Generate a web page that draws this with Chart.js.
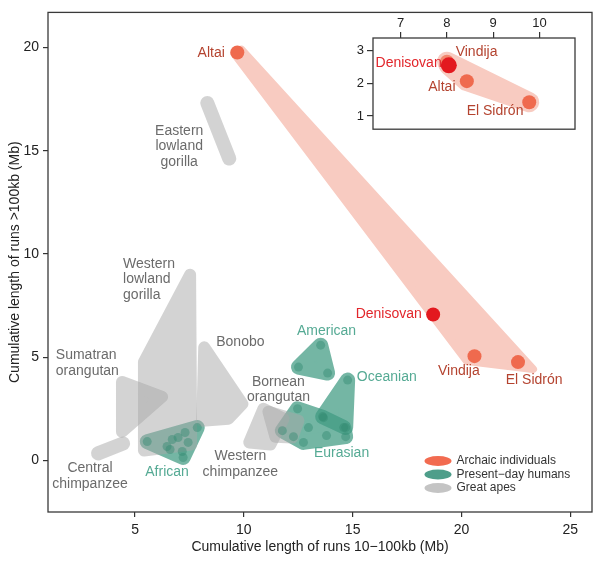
<!DOCTYPE html>
<html>
<head>
<meta charset="utf-8">
<script src="https://cdn.jsdelivr.net/npm/chart.js@4.4.1/dist/chart.umd.min.js"></script>
<style>
  html, body { margin: 0; padding: 0; background: #fff; }
  #wrap { position: relative; width: 602px; height: 564px; }
  #mainChart { position: absolute; left: 0; top: 0; }
  #insetChart { position: absolute; left: 353px; top: 8px; }
</style>
</head>
<body>
<div id="wrap">
  <canvas id="mainChart" width="602" height="564"></canvas>
  <canvas id="insetChart" width="230" height="132"></canvas>
</div>
<script>
  // x = cumulative length of runs 10-100kb (Mb), y = runs >100kb (Mb)
  var archaicNames = ['Altai', 'Denisovan', 'Vindija', 'El Sidrón'];
  var archaicX = [9.7, 18.7, 20.6, 22.6];
  var archaicY = [19.76, 7.07, 5.05, 4.76];
  // outline of the archaic band
  var archaicBandX = [9.56, 9.88, 23.29, 20.25];
  var archaicBandY = [19.71, 19.9, 4.42, 4.81];

  // inset (zoomed values)
  var insetNames = ['Vindija', 'Altai', 'El Sidrón', 'Denisovan'];
  var insetX = [8.0, 8.43, 9.78, 8.04];
  var insetY = [2.65, 2.06, 1.42, 2.54];

  // present-day humans
  var africanDots = [[5.56, 0.91], [6.47, 0.67], [6.71, 1.01], [6.98, 1.11], [7.30, 1.35],
                     [7.86, 1.59], [7.44, 0.87], [7.17, 0.43], [7.21, 0.14], [6.61, 0.53]];
  var americanDots = [[13.53, 5.58], [12.51, 4.52], [13.85, 4.23]];
  var oceanianDots = [[14.77, 3.89], [13.62, 2.12], [14.68, 1.59]];
  var eurasianDots = [[11.77, 1.44], [12.47, 2.5], [12.97, 1.59], [12.28, 1.15], [12.74, 0.87],
                      [13.66, 2.07], [13.80, 1.2], [14.59, 1.59], [14.68, 1.15]];

  // great apes (hull corners)
  var easternGorilla = [[8.32, 17.31], [9.33, 14.62]];
  var westernGorilla = [[7.53, 8.99], [5.41, 4.76], [5.41, 0.48], [7.58, 0.77]];
  var sumatranOrang = [[4.40, 3.80], [6.24, 3.08], [4.40, 1.39]];
  var centralChimp = [[3.30, 0.34], [4.45, 0.82]];
  var bonobo = [[8.18, 5.48], [9.93, 2.74], [9.29, 2.02], [8.09, 1.92]];
  var westernChimp = [[10.25, 0.87], [10.90, 2.50], [11.82, 2.02], [11.22, 0.77]];
  var borneanOrang = [[11.13, 2.36], [12.51, 1.92], [12.23, 1.11], [11.45, 1.15]];

  var xTicks = [5, 10, 15, 20, 25];
  var yTicks = [0, 5, 10, 15, 20];
  var insetXTicks = [7, 8, 9, 10];
  var insetYTicks = [1, 2, 3];

  // text labels: text, x, y, group, align
  var mainLabels = [
    ['Altai', 8.50, 19.71, 'archaic', 'center'],
    ['Denisovan', 16.66, 7.07, 'denisovan', 'center'],
    ['Vindija', 19.88, 4.33, 'archaic', 'center'],
    ['El Sidrón', 23.34, 3.89, 'archaic', 'center'],
    ['Eastern\nlowland\ngorilla', 7.03, 15.96, 'ape', 'center'],
    ['Western\nlowland\ngorilla', 4.45, 9.52, 'ape', 'left'],
    ['Bonobo', 9.84, 5.72, 'ape', 'center'],
    ['Sumatran\norangutan', 1.36, 5.10, 'ape', 'left'],
    ['Central\nchimpanzee', 2.93, -0.38, 'ape', 'center'],
    ['Western\nchimpanzee', 9.84, 0.19, 'ape', 'center'],
    ['Bornean\norangutan', 11.59, 3.80, 'ape', 'center'],
    ['African', 6.47, -0.58, 'human', 'center'],
    ['American', 13.80, 6.25, 'human', 'center'],
    ['Oceanian', 16.57, 4.04, 'human', 'center'],
    ['Eurasian', 14.49, 0.34, 'human', 'center']
  ];
  var insetLabels = [
    ['Vindija', 8.64, 2.94, 'archaic', 'center'],
    ['Denisovan', 7.17, 2.61, 'denisovan', 'center'],
    ['Altai', 7.89, 1.87, 'archaic', 'center'],
    ['El Sidrón', 9.04, 1.14, 'archaic', 'center']
  ];

  var legendNames = ['Archaic individuals', 'Present\u2212day humans', 'Great apes'];
  var legendColors = ['#f26b50', '#4e9e8a', '#c4c4c4'];

  var FONT = "'Liberation Sans', Arial, Helvetica, sans-serif";
  var labelColors = { archaic: '#b4432f', denisovan: '#e2262b', ape: '#6b6b6b', human: '#55aa94' };

  function toPoints(pairs) {
    return pairs.map(function(p) { return { x: p[0], y: p[1] }; });
  }
  function zipPoints(xs, ys) {
    return xs.map(function(x, i) { return { x: x, y: ys[i] }; });
  }

  function convexHull(pts) {
    pts = pts.slice().sort(function(a, b) { return a[0] - b[0] || a[1] - b[1]; });
    if (pts.length < 3) return pts;
    function cross(o, a, b) { return (a[0] - o[0]) * (b[1] - o[1]) - (a[1] - o[1]) * (b[0] - o[0]); }
    var lower = [], upper = [];
    pts.forEach(function(p) {
      while (lower.length >= 2 && cross(lower[lower.length - 2], lower[lower.length - 1], p) <= 0) lower.pop();
      lower.push(p);
    });
    for (var i = pts.length - 1; i >= 0; i--) {
      var p = pts[i];
      while (upper.length >= 2 && cross(upper[upper.length - 2], upper[upper.length - 1], p) <= 0) upper.pop();
      upper.push(p);
    }
    upper.pop(); lower.pop();
    return lower.concat(upper);
  }

  // rounded hulls drawn on a separate layer, then blended with alpha
  var hullLayer = document.createElement('canvas');
  var hullPlugin = {
    id: 'hulls',
    beforeDatasetsDraw: function(chart) {
      var ctx = chart.ctx;
      hullLayer.width = chart.width;
      hullLayer.height = chart.height;
      var hctx = hullLayer.getContext('2d');
      chart.data.datasets.forEach(function(ds, i) {
        if (!ds.hullWidth) return;
        var pts = chart.getDatasetMeta(i).data.map(function(p) { return [p.x, p.y]; });
        var hull = convexHull(pts);
        hctx.clearRect(0, 0, hullLayer.width, hullLayer.height);
        hctx.fillStyle = ds.hullColor;
        hctx.strokeStyle = ds.hullColor;
        hctx.lineWidth = ds.hullWidth;
        hctx.lineJoin = 'round';
        hctx.lineCap = 'round';
        hctx.beginPath();
        hull.forEach(function(p, k) {
          if (k === 0) hctx.moveTo(p[0], p[1]); else hctx.lineTo(p[0], p[1]);
        });
        hctx.closePath();
        hctx.fill();
        hctx.stroke();
        ctx.save();
        ctx.globalAlpha = ds.hullAlpha;
        ctx.drawImage(hullLayer, 0, 0);
        ctx.restore();
      });
    }
  };

  var labelPlugin = {
    id: 'labels',
    afterDatasetsDraw: function(chart, args, opts) {
      var ctx = chart.ctx, xs = chart.scales.x, ys = chart.scales.y;
      ctx.save();
      ctx.font = opts.size + 'px ' + FONT;
      ctx.textBaseline = 'middle';
      opts.items.forEach(function(l) {
        var px = xs.getPixelForValue(l[1]);
        var py = ys.getPixelForValue(l[2]);
        ctx.fillStyle = labelColors[l[3]];
        ctx.textAlign = l[4];
        l[0].split('\n').forEach(function(line, k) {
          ctx.fillText(line, px, py + k * 15.7);
        });
      });
      ctx.restore();
    }
  };

  var boxPlugin = {
    id: 'box',
    afterDraw: function(chart) {
      var a = chart.chartArea, ctx = chart.ctx;
      ctx.save();
      ctx.strokeStyle = '#3a3a3a';
      ctx.lineWidth = 1.3;
      ctx.strokeRect(a.left, a.top, a.right - a.left, a.bottom - a.top);
      ctx.restore();
    }
  };

  var legendPlugin = {
    id: 'ellipseLegend',
    afterDraw: function(chart) {
      var a = chart.chartArea, ctx = chart.ctx;
      ctx.save();
      ctx.font = '12px ' + FONT;
      ctx.textBaseline = 'middle';
      ctx.textAlign = 'left';
      legendNames.forEach(function(name, i) {
        var cx = a.right - 154, cy = a.bottom - 51 + i * 13.5;
        ctx.fillStyle = legendColors[i];
        ctx.beginPath();
        ctx.ellipse(cx, cy, 13.5, 5, 0, 0, Math.PI * 2);
        ctx.fill();
        ctx.fillStyle = '#333';
        ctx.fillText(name, cx + 18.5, cy);
      });
      ctx.restore();
    }
  };

  function tickSetter(values) {
    return function(scale) {
      scale.ticks = values.map(function(v) { return { value: v }; });
    };
  }

  function apeSet(pairs, width) {
    return { data: toPoints(pairs), pointRadius: 0, hullWidth: width || 12,
             hullColor: '#a8a8a8', hullAlpha: 0.5 };
  }
  function humanSet(pairs) {
    return { data: toPoints(pairs), pointRadius: 4.5, pointBorderWidth: 0,
             pointBackgroundColor: 'rgba(50,138,114,0.45)',
             hullWidth: 15, hullColor: '#3f9a82', hullAlpha: 0.72 };
  }

  var axisFont = { family: FONT, size: 14 };

  new Chart(document.getElementById('mainChart'), {
    type: 'scatter',
    data: {
      datasets: [
        { data: zipPoints(archaicX, archaicY), pointRadius: 7, pointBorderWidth: 0,
          pointBackgroundColor: archaicNames.map(function(n) { return n === 'Denisovan' ? '#e3191f' : '#ef6a4e'; }) },
        humanSet(africanDots),
        humanSet(americanDots),
        humanSet(oceanianDots),
        humanSet(eurasianDots),
        { data: zipPoints(archaicBandX, archaicBandY), pointRadius: 0,
          hullWidth: 8, hullColor: '#f8cbc1', hullAlpha: 1 },
        apeSet(easternGorilla, 14),
        apeSet(westernGorilla),
        apeSet(sumatranOrang),
        apeSet(centralChimp, 14),
        apeSet(bonobo),
        apeSet(westernChimp),
        apeSet(borneanOrang)
      ]
    },
    options: {
      responsive: false,
      animation: false,
      layout: { padding: { top: 9, right: 10, left: 0, bottom: 0 } },
      plugins: {
        legend: { display: false },
        tooltip: { enabled: false },
        labels: { items: mainLabels, size: 14 }
      },
      scales: {
        x: {
          type: 'linear', min: 1, max: 26,
          afterBuildTicks: tickSetter(xTicks),
          afterFit: function(s) { s.height = 52; },
          grid: { drawOnChartArea: false, drawTicks: true, tickLength: 5, color: '#333', lineWidth: 1.2 },
          border: { display: false },
          ticks: { font: axisFont, color: '#222', padding: 5, maxRotation: 0 },
          title: { display: true, text: 'Cumulative length of runs 10\u2212100kb (Mb)',
                   font: axisFont, color: '#222', padding: { top: 0, bottom: 8 } }
        },
        y: {
          type: 'linear', min: -2.5, max: 21.7,
          afterBuildTicks: tickSetter(yTicks),
          afterFit: function(s) { s.width = 48; },
          grid: { drawOnChartArea: false, drawTicks: true, tickLength: 5, color: '#333', lineWidth: 1.2 },
          border: { display: false },
          ticks: { font: axisFont, color: '#222', padding: 4 },
          title: { display: true, text: 'Cumulative length of runs >100kb (Mb)',
                   font: axisFont, color: '#222', padding: { top: 7, bottom: 0 } }
        }
      }
    },
    plugins: [hullPlugin, labelPlugin, boxPlugin, legendPlugin]
  });

  var insetFont = { family: FONT, size: 13 };

  new Chart(document.getElementById('insetChart'), {
    type: 'scatter',
    data: {
      datasets: [{
        data: zipPoints(insetX, insetY),
        pointRadius: insetNames.map(function(n) { return n === 'Denisovan' ? 8 : 7; }),
        pointBorderWidth: 0,
        pointBackgroundColor: insetNames.map(function(n) {
          if (n === 'Denisovan') return '#e3191f';
          if (n === 'Vindija') return '#f2876d';
          return '#ef6a4e';
        }),
        hullWidth: 20, hullColor: '#f8cbc1', hullAlpha: 1
      }]
    },
    options: {
      responsive: false,
      animation: false,
      layout: { padding: { top: 0, right: 5, left: 0, bottom: 4 } },
      plugins: {
        legend: { display: false },
        tooltip: { enabled: false },
        labels: { items: insetLabels, size: 14 }
      },
      scales: {
        x: {
          type: 'linear', position: 'top', min: 6.4, max: 10.77,
          afterBuildTicks: tickSetter(insetXTicks),
          afterFit: function(s) { s.height = 30; },
          grid: { drawOnChartArea: false, drawTicks: true, tickLength: 6, color: '#333', lineWidth: 1.2 },
          border: { display: false },
          ticks: { font: insetFont, color: '#222', padding: 1, maxRotation: 0 }
        },
        y: {
          type: 'linear', min: 0.6, max: 3.37,
          afterBuildTicks: tickSetter(insetYTicks),
          afterFit: function(s) { s.width = 20; },
          grid: { drawOnChartArea: false, drawTicks: true, tickLength: 6, color: '#333', lineWidth: 1.2 },
          border: { display: false },
          ticks: { font: insetFont, color: '#222', padding: 3 }
        }
      }
    },
    plugins: [hullPlugin, labelPlugin, boxPlugin]
  });
</script>
</body>
</html>
